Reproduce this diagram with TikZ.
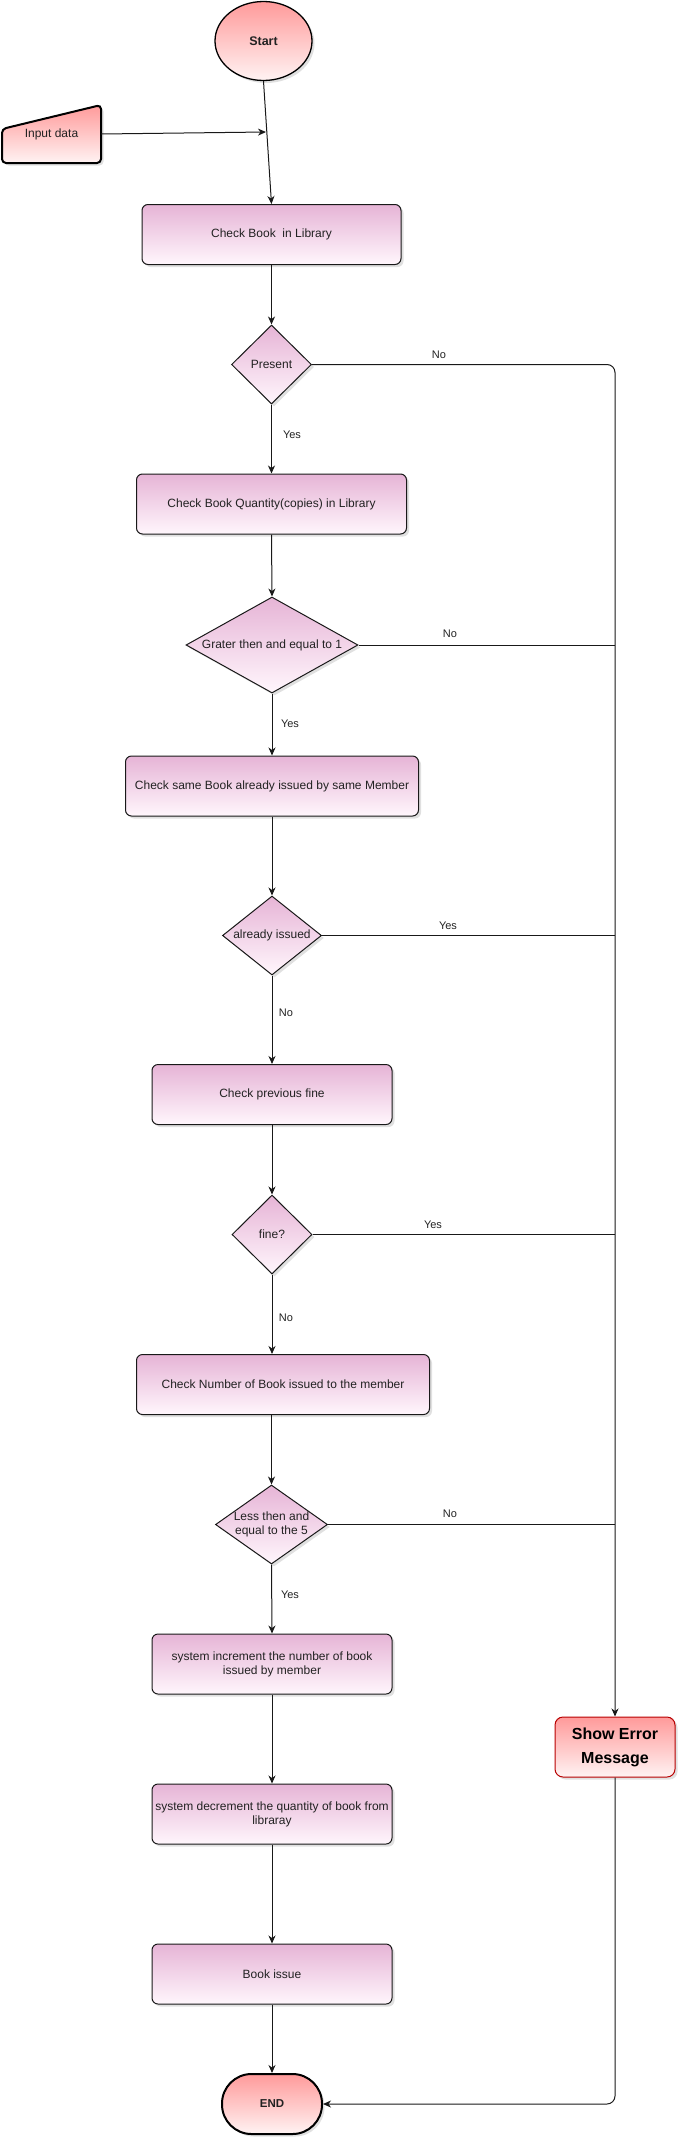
\documentclass[tikz,border=0pt]{standalone}
\usepackage{fontspec}
\setmainfont{Liberation Sans}
\usetikzlibrary{shapes.geometric,arrows.meta,shadows}
\definecolor{procTop}{HTML}{E6B4D6}
\definecolor{procBot}{HTML}{FFF6FC}
\definecolor{termTop}{HTML}{FF9A9A}
\definecolor{termBot}{HTML}{FFF3F3}
\definecolor{errStroke}{HTML}{B80000}
\definecolor{txt}{HTML}{222222}
\begin{document}
\begin{tikzpicture}[x=1pt,y=-1pt,
  shad/.style={drop shadow={shadow xshift=2.5pt,shadow yshift=-2.5pt,opacity=.2,fill=black!60}},
  procbox/.style={rectangle, rounded corners=6pt, draw=black!90, line width=1pt, top color=procTop, bottom color=procBot, shad, minimum height=60pt, inner sep=2pt, align=center, font=\fontsize{12}{14}\selectfont, text=txt},
  decision/.style={diamond, draw=black!90, line width=1pt, top color=procTop, bottom color=procBot, shad, inner sep=0pt, align=center, font=\fontsize{12}{14.4}\selectfont, text=txt},
  lbl/.style={font=\fontsize{11}{13}\selectfont, text=txt, inner sep=0pt},
  conn/.style={draw=black!90, line width=1pt, -{Stealth[length=8pt,width=7pt,inset=2.5pt]}},
  bus/.style={draw=black!90, line width=1pt},
]
\useasboundingbox (0,0) rectangle (687,2147);

% Start
\node[ellipse, draw=black, line width=1.3pt, top color=termTop, bottom color=termBot, shad,
      minimum width=97pt, minimum height=79pt, inner sep=0pt,
      font=\fontsize{12.5}{14}\selectfont\bfseries, text=txt] (start) at (263.5,41) {Start};

% Input data (manual input)
\path[draw=black, line width=2pt, top color=termTop, bottom color=termBot, shad, rounded corners=4pt]
  (2,146) -- (2,129) -- (101,105) -- (101,163) -- (2,163) -- cycle;
\node[minimum width=99pt, minimum height=58pt, inner sep=0pt,
      font=\fontsize{12}{14}\selectfont, text=txt] (input) at (51.5,134) {Input data};
\coordinate (joinPt) at (266,132);

% Main column
\node[procbox, minimum width=259pt] (chk1) at (271.5,234.5) {Check Book~ in Library};
\node[decision, minimum width=80pt, minimum height=79pt] (d1) at (271.5,364.5) {Present};
\node[procbox, minimum width=270pt] (chk2) at (271.5,504) {Check Book Quantity(copies) in Library};
\node[decision, minimum width=172pt, minimum height=96pt, shape aspect=1.8] (d2) at (272,645) {Grater then and equal to 1};
\node[procbox, minimum width=293pt] (chk3) at (272,786) {Check same Book already issued by same Member};
\node[decision, minimum width=99pt, minimum height=79pt, shape aspect=1.25] (d3) at (272,935.5) {already issued};
\node[procbox, minimum width=240pt] (chk4) at (272,1094.5) {Check previous fine};
\node[decision, minimum width=80pt, minimum height=79pt] (d4) at (272,1234.5) {fine?};
\node[procbox, minimum width=293pt] (chk5) at (283,1384.5) {Check Number of Book issued to the member};
\node[decision, minimum width=112pt, minimum height=79pt, shape aspect=1.42] (d5) at (271.5,1524.5) {Less then and\\equal to the 5};
\node[procbox, minimum width=240pt] (inc) at (272,1664) {system increment the number of book\\issued by member};
\node[procbox, minimum width=240pt] (decr) at (272,1814) {system decrement the quantity of book from\\libraray};
\node[procbox, minimum width=240pt] (issue) at (272,1974) {Book issue};
\node[rectangle, rounded corners=29.5pt, draw=black, line width=2pt, top color=termTop, bottom color=termBot, shad,
      minimum width=100pt, minimum height=60pt, inner sep=0pt,
      font=\fontsize{11.5}{14}\selectfont\bfseries, text=txt] (endn) at (272,2104) {END};

% Error box
\node[rectangle, rounded corners=8pt, draw=errStroke, line width=1pt, top color=termTop, bottom color=termBot, shad,
      minimum width=120pt, minimum height=60pt, inner sep=0pt, align=center,
      font=\fontsize{16}{24}\selectfont\bfseries, text=black] (err) at (615,1747) {Show Error\\Message};

% Connectors
\draw[conn] (start.south) -- (chk1.north);
\draw[conn] (input.east) -- (joinPt);
\draw[conn] (chk1.south) -- (d1.north);
\draw[conn] (d1.south) -- (chk2.north);
\draw[conn] (chk2.south) -- (d2.north);
\draw[conn] (d2.south) -- (chk3.north);
\draw[conn] (chk3.south) -- (d3.north);
\draw[conn] (d3.south) -- (chk4.north);
\draw[conn] (chk4.south) -- (d4.north);
\draw[conn] (d4.south) -- (d4.south |- chk5.north);
\draw[conn] (d5.north |- chk5.south) -- (d5.north);
\draw[conn] (d5.south) -- (inc.north);
\draw[conn] (inc.south) -- (decr.north);
\draw[conn] (decr.south) -- (issue.north);
\draw[conn] (issue.south) -- (endn.north);

\draw[conn, rounded corners=8pt] (d1.east) -- (d1.east -| err.north) -- (err.north);
\draw[bus] (d2.east) -- (d2.east -| err.north);
\draw[bus] (d3.east) -- (d3.east -| err.north);
\draw[bus] (d4.east) -- (d4.east -| err.north);
\draw[bus] (d5.east) -- (d5.east -| err.north);
\draw[conn, rounded corners=8pt] (err.south) -- (err.south |- endn.east) -- (endn.east);

% Labels
\node[lbl] (l1n) at (439,355) {No};
\node[lbl] (l1y) at (292,435) {Yes};
\node[lbl] (l2n) at (450,634) {No};
\node[lbl] (l2y) at (290,724) {Yes};
\node[lbl] (l3y) at (448,926) {Yes};
\node[lbl] (l3n) at (286,1013) {No};
\node[lbl] (l4y) at (433,1225) {Yes};
\node[lbl] (l4n) at (286,1318) {No};
\node[lbl] (l5n) at (450,1514) {No};
\node[lbl] (l5y) at (290,1595) {Yes};
\end{tikzpicture}
\end{document}
